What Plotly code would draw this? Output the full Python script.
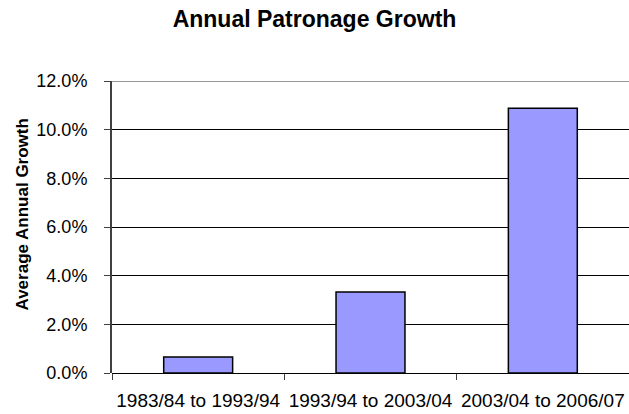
import plotly.graph_objects as go

# Average annual patronage growth per period (percent)
periods = ["1983/84 to 1993/94", "1993/94 to 2003/04", "2003/04 to 2006/07"]
growth_pct = [0.66, 3.33, 10.88]
y_ticks = [0, 2, 4, 6, 8, 10, 12]
y_tick_text = [f"{v:.1f}%" for v in y_ticks]

FONT = "Liberation Sans, Arial, sans-serif"
W, H = 629, 414

fig = go.Figure(
    go.Bar(
        x=periods,
        y=growth_pct,
        width=0.4,
        marker=dict(color="#9999FF", line=dict(color="#000000", width=1.5)),
        hoverinfo="x+y",
    )
)

fig.update_layout(
    width=W,
    height=H,
    margin=dict(l=112, r=0, t=81, b=41),
    paper_bgcolor="white",
    plot_bgcolor="white",
    showlegend=False,
    font=dict(family=FONT, size=18, color="#000000"),
    title=dict(
        text="<b>Annual Patronage Growth</b>",
        x=0.5,
        xref="container",
        xanchor="center",
        y=1 - 19 / H,
        yanchor="middle",
        font=dict(family=FONT, size=23, color="#000000"),
    ),
    xaxis=dict(
        type="category",
        automargin=False,
        tickangle=0,
        showgrid=False,
        ticks="outside",
        tickson="boundaries",
        ticklen=6,
        tickcolor="#404040",
        showline=False,
        ticklabelstandoff=14,
        tickfont=dict(family=FONT, size=19),
    ),
    yaxis=dict(
        automargin=False,
        range=[0, 12],
        tickmode="array",
        tickvals=y_ticks,
        ticktext=y_tick_text,
        showgrid=True,
        gridcolor="#000000",
        gridwidth=1,
        zeroline=True,
        zerolinecolor="#000000",
        zerolinewidth=1,
        showline=True,
        linecolor="#404040",
        linewidth=2,
        ticks="outside",
        ticklen=6,
        tickcolor="#404040",
        ticklabelstandoff=13,
        tickfont=dict(family=FONT, size=18),
    ),
    shapes=[
        dict(
            type="line",
            xref="paper",
            yref="y",
            x0=0,
            x1=1,
            y0=12,
            y1=12,
            line=dict(color="#999999", width=2),
        )
    ],
    annotations=[
        dict(
            text="<b>Average Annual Growth</b>",
            textangle=-90,
            xref="paper",
            yref="paper",
            x=(22 - 112) / (W - 112),
            y=(H - 41 - 214.5) / (H - 81 - 41),
            xanchor="center",
            yanchor="middle",
            showarrow=False,
            font=dict(family=FONT, size=17, color="#000000"),
        )
    ],
)

fig.write_html("out.html")
